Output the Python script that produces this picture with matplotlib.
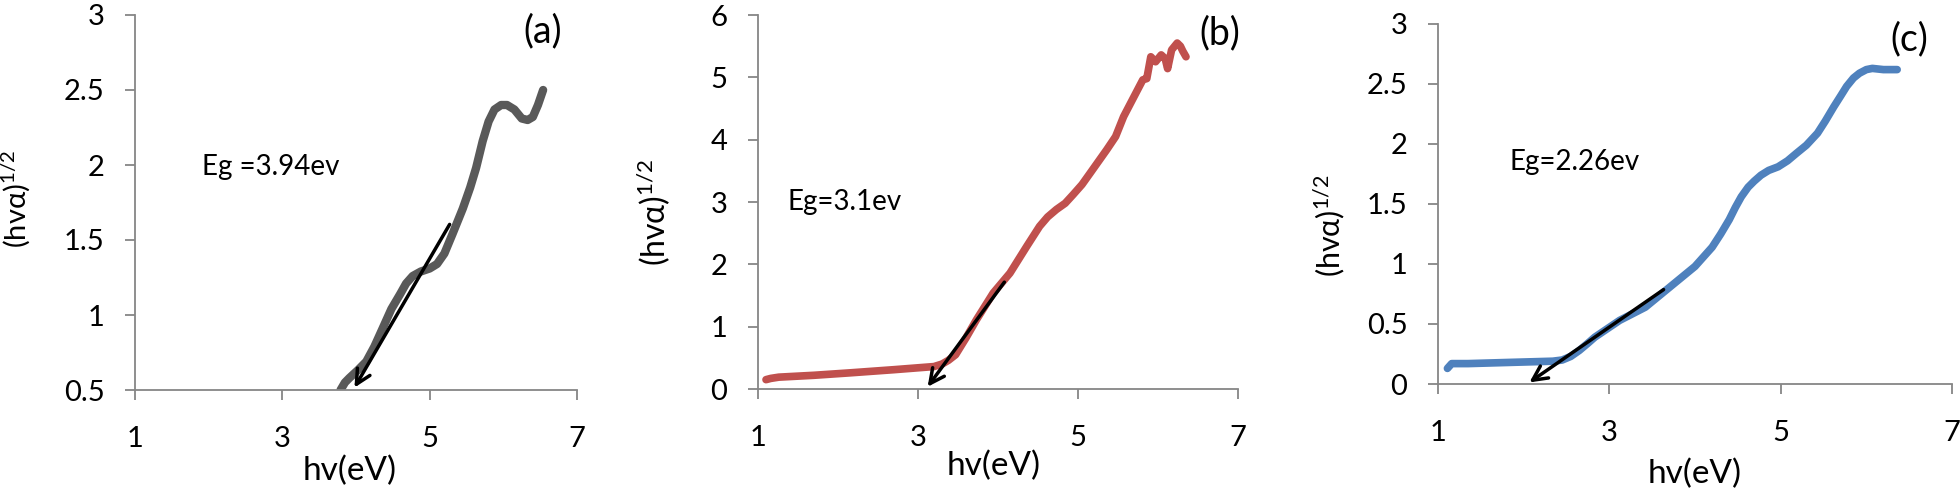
import matplotlib
matplotlib.use("Agg")
import matplotlib.pyplot as plt

plt.rcParams['font.family'] = ['Lato', 'DejaVu Sans']
plt.rcParams['mathtext.default'] = 'regular'

# Panel (a)
a_x = [3.79, 3.85, 3.91, 4.02, 4.14, 4.25, 4.37, 4.48, 4.60, 4.68, 4.77, 4.88, 5.00, 5.10, 5.20, 5.31,
       5.45, 5.55, 5.63, 5.72, 5.80, 5.88, 5.97, 6.05, 6.15, 6.25, 6.33, 6.40, 6.47, 6.54]
a_y = [0.50, 0.55, 0.58, 0.63, 0.69, 0.79, 0.92, 1.04, 1.14, 1.21, 1.26, 1.29, 1.31, 1.34, 1.41, 1.54,
       1.71, 1.85, 1.98, 2.16, 2.29, 2.37, 2.40, 2.40, 2.37, 2.31, 2.30, 2.32, 2.40, 2.50]

# Panel (b)
b_x = [1.10, 1.16, 1.26, 1.70, 2.16, 2.70, 3.20, 3.30, 3.38, 3.47, 3.60, 3.73, 3.94, 4.15, 4.36, 4.52,
       4.62, 4.73, 4.84, 4.94, 5.05, 5.15, 5.36, 5.47, 5.57, 5.70, 5.81, 5.86, 5.91, 5.97, 6.04, 6.09,
       6.12, 6.17, 6.24, 6.28, 6.31, 6.35]
b_y = [0.15, 0.17, 0.19, 0.22, 0.26, 0.31, 0.36, 0.40, 0.46, 0.55, 0.82, 1.11, 1.54, 1.86, 2.29, 2.61,
       2.76, 2.88, 2.98, 3.12, 3.28, 3.46, 3.84, 4.05, 4.37, 4.69, 4.96, 4.98, 5.33, 5.25, 5.36, 5.30,
       5.14, 5.44, 5.55, 5.50, 5.42, 5.33]

# Panel (c)
c_x = [1.11, 1.16, 1.35, 1.84, 2.34, 2.45, 2.55, 2.65, 2.75, 2.83, 3.12, 3.42, 3.71, 4.00, 4.20, 4.30,
       4.40, 4.47, 4.54, 4.62, 4.69, 4.77, 4.86, 4.97, 5.08, 5.18, 5.30, 5.43, 5.52, 5.62, 5.70, 5.77,
       5.85, 5.92, 6.00, 6.07, 6.20, 6.36]
c_y = [0.13, 0.17, 0.17, 0.18, 0.19, 0.20, 0.23, 0.28, 0.34, 0.39, 0.53, 0.64, 0.81, 0.98, 1.14, 1.25,
       1.37, 1.47, 1.56, 1.64, 1.69, 1.74, 1.78, 1.81, 1.86, 1.92, 1.99, 2.09, 2.19, 2.31, 2.40, 2.48,
       2.55, 2.59, 2.62, 2.63, 2.62, 2.62]

panels = [
    dict(x=a_x, y=a_y, color='#595959', lw=6, ylim=(0.5, 3), yticks=[0.5, 1, 1.5, 2, 2.5, 3],
         yfmt=['0.5', '1', '1.5', '2', '2.5', '3'],
         arrow=((5.29, 1.62), (3.96, 0.50)), eg='Eg =3.94ev', eg_pos=(1.91, 1.99),
         tag='(a)', tag_pos=(6.54, 2.89),
         rect=(135, 15, 577, 390), ylab=(-0.233, 0.51, 21), xlab=(0.486, -0.176)),
    dict(x=b_x, y=b_y, color='#c0504d', lw=5.5, ylim=(0, 6), yticks=[0, 1, 2, 3, 4, 5, 6],
         yfmt=['0', '1', '2', '3', '4', '5', '6'],
         arrow=((4.10, 1.75), (3.10, 0.0)), eg='Eg=3.1ev', eg_pos=(1.375, 3.0),
         tag='(b)', tag_pos=(6.77, 5.7),
         rect=(758, 15, 1238, 389), ylab=(-0.177, 0.473, 23), xlab=(0.49, -0.166)),
    dict(x=c_x, y=c_y, color='#4f81bd', lw=5.5, ylim=(0, 3), yticks=[0, 0.5, 1, 1.5, 2, 2.5, 3],
         yfmt=['0', '0.5', '1', '1.5', '2', '2.5', '3'],
         arrow=((3.66, 0.80), (2.04, 0.0)), eg='Eg=2.26ev', eg_pos=(1.84, 1.85),
         tag='(c)', tag_pos=(6.5, 2.87),
         rect=(1438, 24, 1952, 384), ylab=(-0.177, 0.44, 22), xlab=(0.5, -0.208)),
]

W, H = 1960, 494
fig = plt.figure(figsize=(W / 100, H / 100), dpi=100)

for p in panels:
    x0, y0, x1, y1 = p['rect']
    ax = fig.add_axes([x0 / W, 1 - y1 / H, (x1 - x0) / W, (y1 - y0) / H])
    ax.plot(p['x'], p['y'], color=p['color'], lw=p['lw'], solid_capstyle='round', solid_joinstyle='round')
    ax.annotate('', xy=p['arrow'][1], xytext=p['arrow'][0],
                arrowprops=dict(arrowstyle='->', color='black', lw=2.5, mutation_scale=26))
    ax.set_xlim(1, 7)
    ax.set_ylim(*p['ylim'])
    ax.set_xticks([1, 3, 5, 7])
    ax.set_yticks(p['yticks'])
    ax.set_yticklabels(p['yfmt'])
    for s in ['top', 'right']:
        ax.spines[s].set_visible(False)
    for s in ['left', 'bottom']:
        ax.spines[s].set_color('#868686')
        ax.spines[s].set_linewidth(1.3)
    ax.tick_params(colors='#868686', labelcolor='black', labelsize=21, length=7, width=1.3)
    ax.tick_params(axis='x', pad=19)
    ax.tick_params(axis='y', pad=15)
    ax.set_xlabel('hv(eV)', fontsize=24)
    ax.xaxis.set_label_coords(p['xlab'][0], p['xlab'][1])
    ax.set_ylabel(r'(hvα)$^{1/2}$', fontsize=p['ylab'][2])
    ax.yaxis.set_label_coords(p['ylab'][0], p['ylab'][1])
    ax.text(p['eg_pos'][0], p['eg_pos'][1], p['eg'], fontsize=20, va='center', ha='left')
    ax.text(p['tag_pos'][0], p['tag_pos'][1], p['tag'], fontsize=27, va='center', ha='center')

fig.savefig('out.png', dpi=100)
